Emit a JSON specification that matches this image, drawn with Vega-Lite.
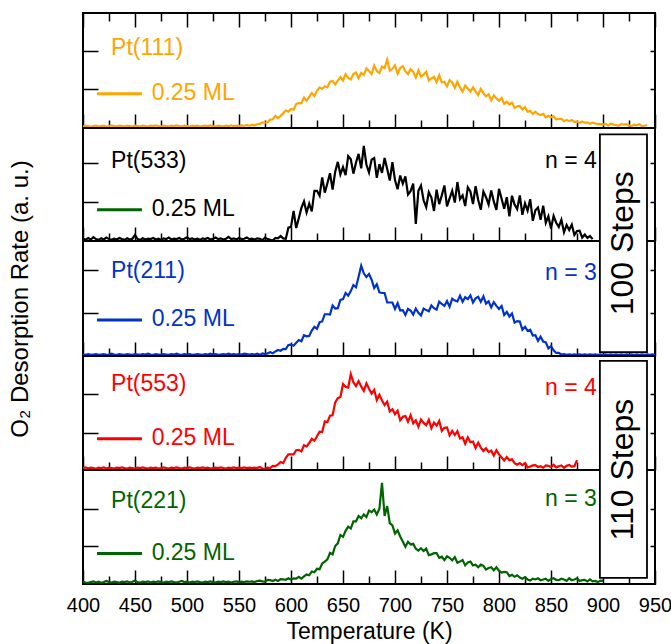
{
"$schema": "https://vega.github.io/schema/vega-lite/v6.json",
"padding": {"left": 7, "top": 11, "right": 0, "bottom": 0},
"config": {
  "font": "Liberation Sans",
  "view": {"stroke": "black", "strokeWidth": 2},
  "axis": {"grid": false, "domain": false, "labels": false, "tickColor": "black", "tickWidth": 1.5, "minExtent": 0, "labelColor": "black", "titleColor": "black", "titleFontWeight": "normal", "labelFlush": false, "labelOverlap": false},
  "text": {"font": "Liberation Sans", "fontSize": 23, "baseline": "middle"}
},
"datasets": {"tpd": [
{"T":400,"a":0.04,"b":0.06,"c":0.04,"d":0.05,"e":0.06},
{"T":402.5,"a":0.06,"b":0.03,"c":0.03,"d":0.07,"e":0.04},
{"T":405,"a":0.05,"b":0.08,"c":0.05,"d":0.04,"e":0.03},
{"T":407.5,"a":0.03,"b":0.04,"c":0.03,"d":0.06,"e":0.05},
{"T":410,"a":0.05,"b":0.10,"c":0.04,"d":0.05,"e":0.07},
{"T":412.5,"a":0.06,"b":0.05,"c":0.05,"d":0.03,"e":0.04},
{"T":415,"a":0.04,"b":0.03,"c":0.03,"d":0.06,"e":0.06},
{"T":417.5,"a":0.05,"b":0.07,"c":0.04,"d":0.05,"e":0.03},
{"T":420,"a":0.06,"b":0.04,"c":0.05,"d":0.07,"e":0.05},
{"T":422.5,"a":0.04,"b":0.09,"c":0.03,"d":0.04,"e":0.08},
{"T":425,"a":0.05,"b":0.05,"c":0.04,"d":0.06,"e":0.05},
{"T":427.5,"a":0.07,"b":0.03,"c":0.06,"d":0.05,"e":0.04},
{"T":430,"a":0.05,"b":0.06,"c":0.04,"d":0.04,"e":0.06},
{"T":432.5,"a":0.04,"b":0.04,"c":0.03,"d":0.06,"e":0.05},
{"T":435,"a":0.06,"b":0.08,"c":0.05,"d":0.05,"e":0.03},
{"T":437.5,"a":0.05,"b":0.05,"c":0.04,"d":0.07,"e":0.06},
{"T":440,"a":0.04,"b":0.03,"c":0.03,"d":0.05,"e":0.05},
{"T":442.5,"a":0.06,"b":0.07,"c":0.05,"d":0.04,"e":0.07},
{"T":445,"a":0.05,"b":0.04,"c":0.04,"d":0.06,"e":0.04},
{"T":447.5,"a":0.04,"b":0.06,"c":0.03,"d":0.05,"e":0.06},
{"T":450,"a":0.06,"b":0.16,"c":0.05,"d":0.04,"e":0.09},
{"T":452.5,"a":0.05,"b":0.05,"c":0.04,"d":0.06,"e":0.05},
{"T":455,"a":0.04,"b":0.03,"c":0.03,"d":0.05,"e":0.04},
{"T":457.5,"a":0.06,"b":0.07,"c":0.05,"d":0.07,"e":0.06},
{"T":460,"a":0.05,"b":0.04,"c":0.04,"d":0.05,"e":0.05},
{"T":462.5,"a":0.04,"b":0.06,"c":0.06,"d":0.04,"e":0.07},
{"T":465,"a":0.06,"b":0.05,"c":0.04,"d":0.06,"e":0.04},
{"T":467.5,"a":0.05,"b":0.08,"c":0.03,"d":0.05,"e":0.06},
{"T":470,"a":0.07,"b":0.04,"c":0.05,"d":0.06,"e":0.05},
{"T":472.5,"a":0.05,"b":0.06,"c":0.04,"d":0.04,"e":0.07},
{"T":475,"a":0.04,"b":0.03,"c":0.03,"d":0.05,"e":0.05},
{"T":477.5,"a":0.06,"b":0.07,"c":0.05,"d":0.07,"e":0.04},
{"T":480,"a":0.05,"b":0.05,"c":0.04,"d":0.05,"e":0.06},
{"T":482.5,"a":0.04,"b":0.09,"c":0.03,"d":0.04,"e":0.05},
{"T":485,"a":0.06,"b":0.04,"c":0.05,"d":0.06,"e":0.07},
{"T":487.5,"a":0.05,"b":0.06,"c":0.04,"d":0.05,"e":0.05},
{"T":490,"a":0.07,"b":0.05,"c":0.06,"d":0.07,"e":0.04},
{"T":492.5,"a":0.05,"b":0.08,"c":0.04,"d":0.05,"e":0.06},
{"T":495,"a":0.04,"b":0.04,"c":0.03,"d":0.04,"e":0.08},
{"T":497.5,"a":0.06,"b":0.06,"c":0.05,"d":0.06,"e":0.05},
{"T":500,"a":0.05,"b":0.10,"c":0.04,"d":0.05,"e":0.06},
{"T":502.5,"a":0.04,"b":0.05,"c":0.05,"d":0.07,"e":0.04},
{"T":505,"a":0.06,"b":0.07,"c":0.03,"d":0.05,"e":0.06},
{"T":507.5,"a":0.05,"b":0.04,"c":0.04,"d":0.04,"e":0.05},
{"T":510,"a":0.06,"b":0.06,"c":0.05,"d":0.06,"e":0.07},
{"T":512.5,"a":0.04,"b":0.03,"c":0.04,"d":0.05,"e":0.05},
{"T":515,"a":0.05,"b":0.07,"c":0.03,"d":0.07,"e":0.04},
{"T":517.5,"a":0.06,"b":0.05,"c":0.05,"d":0.05,"e":0.06},
{"T":520,"a":0.05,"b":0.08,"c":0.04,"d":0.06,"e":0.05},
{"T":522.5,"a":0.07,"b":0.04,"c":0.06,"d":0.04,"e":0.07},
{"T":525,"a":0.05,"b":0.06,"c":0.04,"d":0.05,"e":0.05},
{"T":527.5,"a":0.04,"b":0.09,"c":0.05,"d":0.06,"e":0.04},
{"T":530,"a":0.06,"b":0.05,"c":0.03,"d":0.05,"e":0.06},
{"T":532.5,"a":0.05,"b":0.07,"c":0.04,"d":0.07,"e":0.05},
{"T":535,"a":0.04,"b":0.04,"c":0.05,"d":0.05,"e":0.07},
{"T":537.5,"a":0.06,"b":0.06,"c":0.04,"d":0.04,"e":0.05},
{"T":540,"a":0.05,"b":0.11,"c":0.06,"d":0.06,"e":0.06},
{"T":542.5,"a":0.07,"b":0.05,"c":0.04,"d":0.05,"e":0.04},
{"T":545,"a":0.05,"b":0.07,"c":0.05,"d":0.07,"e":0.06},
{"T":547.5,"a":0.06,"b":0.04,"c":0.04,"d":0.05,"e":0.07},
{"T":550,"a":0.05,"b":0.08,"c":0.05,"d":0.06,"e":0.05},
{"T":552.5,"a":0.07,"b":0.05,"c":0.04,"d":0.05,"e":0.06},
{"T":555,"a":0.06,"b":0.06,"c":0.06,"d":0.07,"e":0.05},
{"T":557.5,"a":0.08,"b":0.09,"c":0.05,"d":0.05,"e":0.07},
{"T":560,"a":0.06,"b":0.05,"c":0.04,"d":0.06,"e":0.06},
{"T":562.5,"a":0.08,"b":0.06,"c":0.05,"d":0.05,"e":0.07},
{"T":565,"a":0.07,"b":0.04,"c":0.04,"d":0.06,"e":0.05},
{"T":567.5,"a":0.10,"b":0.07,"c":0.06,"d":0.05,"e":0.08},
{"T":570,"a":0.11,"b":0.06,"c":0.03,"d":0.08,"e":0.09},
{"T":572.5,"a":0.15,"b":0.02,"c":0.07,"d":0.04,"e":0.07},
{"T":575,"a":0.14,"b":0.09,"c":0.05,"d":0.03,"e":0.06},
{"T":577.5,"a":0.15,"b":0.05,"c":0.07,"d":0.06,"e":0.11},
{"T":580,"a":0.22,"b":0.03,"c":0.10,"d":0.05,"e":0.10},
{"T":582.5,"a":0.23,"b":0.01,"c":0.07,"d":0.11,"e":0.08},
{"T":585,"a":0.32,"b":0.08,"c":0.12,"d":0.10,"e":0.11},
{"T":587.5,"a":0.26,"b":0.07,"c":0.16,"d":0.15,"e":0.08},
{"T":590,"a":0.32,"b":0.13,"c":0.14,"d":0.21,"e":0.13},
{"T":592.5,"a":0.39,"b":0.07,"c":0.19,"d":0.18,"e":0.12},
{"T":595,"a":0.46,"b":0.06,"c":0.18,"d":0.32,"e":0.11},
{"T":597.5,"a":0.43,"b":0.35,"c":0.29,"d":0.41,"e":0.15},
{"T":600,"a":0.50,"b":0.37,"c":0.30,"d":0.41,"e":0.11},
{"T":602.5,"a":0.48,"b":0.79,"c":0.27,"d":0.41,"e":0.15},
{"T":605,"a":0.63,"b":0.34,"c":0.35,"d":0.52,"e":0.14},
{"T":607.5,"a":0.66,"b":0.60,"c":0.42,"d":0.53,"e":0.19},
{"T":610,"a":0.65,"b":0.87,"c":0.39,"d":0.49,"e":0.14},
{"T":612.5,"a":0.80,"b":1.04,"c":0.55,"d":0.65,"e":0.20},
{"T":615,"a":0.72,"b":0.75,"c":0.52,"d":0.62,"e":0.25},
{"T":617.5,"a":0.82,"b":0.98,"c":0.53,"d":0.71,"e":0.23},
{"T":620,"a":0.92,"b":0.78,"c":0.67,"d":0.82,"e":0.33},
{"T":622.5,"a":0.84,"b":1.32,"c":0.77,"d":0.77,"e":0.31},
{"T":625,"a":0.98,"b":1.32,"c":0.72,"d":0.89,"e":0.40},
{"T":627.5,"a":1.07,"b":1.19,"c":0.89,"d":1.01,"e":0.39},
{"T":630,"a":1.03,"b":1.67,"c":0.91,"d":1.00,"e":0.54},
{"T":632.5,"a":1.10,"b":1.27,"c":1.10,"d":1.28,"e":0.59},
{"T":635,"a":1.07,"b":1.52,"c":1.10,"d":1.26,"e":0.65},
{"T":637.5,"a":1.22,"b":1.78,"c":1.09,"d":1.43,"e":0.82},
{"T":640,"a":1.24,"b":1.35,"c":1.33,"d":1.44,"e":0.78},
{"T":642.5,"a":1.15,"b":1.82,"c":1.25,"d":1.78,"e":1.00},
{"T":645,"a":1.25,"b":2.08,"c":1.26,"d":1.89,"e":1.07},
{"T":647.5,"a":1.34,"b":1.75,"c":1.48,"d":1.92,"e":1.29},
{"T":650,"a":1.25,"b":1.94,"c":1.50,"d":2.26,"e":1.24},
{"T":652.5,"a":1.42,"b":1.73,"c":1.66,"d":2.19,"e":1.40},
{"T":655,"a":1.32,"b":2.23,"c":1.59,"d":2.17,"e":1.51},
{"T":657.5,"a":1.28,"b":2.15,"c":1.71,"d":2.52,"e":1.46},
{"T":660,"a":1.42,"b":1.77,"c":1.87,"d":2.31,"e":1.65},
{"T":662.5,"a":1.46,"b":2.06,"c":1.81,"d":2.21,"e":1.65},
{"T":665,"a":1.31,"b":2.29,"c":2.09,"d":2.34,"e":1.79},
{"T":667.5,"a":1.45,"b":1.91,"c":2.38,"d":2.20,"e":1.73},
{"T":670,"a":1.40,"b":2.50,"c":2.18,"d":2.08,"e":1.83},
{"T":672.5,"a":1.57,"b":2.01,"c":2.08,"d":2.28,"e":1.76},
{"T":675,"a":1.50,"b":1.80,"c":2.16,"d":2.14,"e":1.93},
{"T":677.5,"a":1.42,"b":2.14,"c":2.01,"d":2.01,"e":1.89},
{"T":680,"a":1.64,"b":2.18,"c":1.79,"d":2.11,"e":1.96},
{"T":682.5,"a":1.50,"b":1.66,"c":1.89,"d":1.84,"e":1.83},
{"T":685,"a":1.45,"b":2.02,"c":1.68,"d":1.98,"e":1.98},
{"T":687.5,"a":1.62,"b":1.79,"c":1.66,"d":1.83,"e":2.66},
{"T":690,"a":1.58,"b":2.18,"c":1.66,"d":1.71,"e":1.79},
{"T":692.5,"a":1.80,"b":1.89,"c":1.41,"d":1.80,"e":2.05},
{"T":695,"a":1.51,"b":1.59,"c":1.41,"d":1.54,"e":1.60},
{"T":697.5,"a":1.56,"b":2.07,"c":1.41,"d":1.60,"e":1.54},
{"T":700,"a":1.65,"b":1.60,"c":1.24,"d":1.47,"e":1.33},
{"T":702.5,"a":1.43,"b":1.36,"c":1.39,"d":1.56,"e":1.41},
{"T":705,"a":1.58,"b":1.72,"c":1.20,"d":1.31,"e":1.25},
{"T":707.5,"a":1.63,"b":1.51,"c":1.21,"d":1.40,"e":1.12},
{"T":710,"a":1.49,"b":1.70,"c":1.08,"d":1.42,"e":0.98},
{"T":712.5,"a":1.42,"b":1.22,"c":1.24,"d":1.27,"e":1.11},
{"T":715,"a":1.55,"b":1.31,"c":1.20,"d":1.44,"e":1.04},
{"T":717.5,"a":1.48,"b":1.51,"c":1.09,"d":1.23,"e":1.06},
{"T":720,"a":1.33,"b":0.45,"c":1.25,"d":1.31,"e":0.93},
{"T":722.5,"a":1.52,"b":1.32,"c":1.14,"d":1.14,"e":0.88},
{"T":725,"a":1.35,"b":1.46,"c":1.07,"d":1.33,"e":0.94},
{"T":727.5,"a":1.41,"b":1.07,"c":1.25,"d":1.24,"e":0.87},
{"T":730,"a":1.48,"b":0.89,"c":1.21,"d":1.18,"e":0.93},
{"T":732.5,"a":1.25,"b":1.28,"c":1.18,"d":1.32,"e":0.76},
{"T":735,"a":1.31,"b":1.14,"c":1.33,"d":1.10,"e":0.78},
{"T":737.5,"a":1.35,"b":0.79,"c":1.26,"d":1.25,"e":0.81},
{"T":740,"a":1.21,"b":1.35,"c":1.22,"d":1.17,"e":0.81},
{"T":742.5,"a":1.39,"b":0.97,"c":1.43,"d":1.29,"e":0.69},
{"T":745,"a":1.20,"b":1.20,"c":1.37,"d":1.03,"e":0.72},
{"T":747.5,"a":1.22,"b":1.46,"c":1.32,"d":1.11,"e":0.63},
{"T":750,"a":1.10,"b":0.91,"c":1.45,"d":1.12,"e":0.73},
{"T":752.5,"a":1.26,"b":1.12,"c":1.30,"d":0.91,"e":0.69},
{"T":755,"a":1.20,"b":1.32,"c":1.51,"d":1.03,"e":0.62},
{"T":757.5,"a":1.06,"b":1.01,"c":1.46,"d":0.92,"e":0.71},
{"T":760,"a":1.22,"b":1.55,"c":1.44,"d":1.02,"e":0.56},
{"T":762.5,"a":1.07,"b":1.10,"c":1.59,"d":0.83,"e":0.59},
{"T":765,"a":0.96,"b":1.20,"c":1.43,"d":0.86,"e":0.63},
{"T":767.5,"a":1.12,"b":0.92,"c":1.55,"d":0.69,"e":0.49},
{"T":770,"a":1.04,"b":1.41,"c":1.50,"d":0.86,"e":0.57},
{"T":772.5,"a":0.96,"b":1.30,"c":1.60,"d":0.73,"e":0.59},
{"T":775,"a":1.07,"b":0.97,"c":1.41,"d":0.75,"e":0.49},
{"T":777.5,"a":0.96,"b":1.44,"c":1.52,"d":0.58,"e":0.51},
{"T":780,"a":0.87,"b":1.08,"c":1.56,"d":0.72,"e":0.44},
{"T":782.5,"a":1.03,"b":0.82,"c":1.43,"d":0.59,"e":0.51},
{"T":785,"a":0.92,"b":1.30,"c":1.57,"d":0.50,"e":0.48},
{"T":787.5,"a":0.83,"b":1.15,"c":1.38,"d":0.57,"e":0.38},
{"T":790,"a":0.89,"b":0.96,"c":1.44,"d":0.47,"e":0.42},
{"T":792.5,"a":0.73,"b":1.33,"c":1.28,"d":0.51,"e":0.44},
{"T":795,"a":0.86,"b":1.04,"c":1.42,"d":0.38,"e":0.36},
{"T":797.5,"a":0.78,"b":0.82,"c":1.32,"d":0.52,"e":0.44},
{"T":800,"a":0.72,"b":1.37,"c":1.24,"d":0.41,"e":0.35},
{"T":802.5,"a":0.79,"b":1.11,"c":1.32,"d":0.33,"e":0.30},
{"T":805,"a":0.64,"b":0.85,"c":1.08,"d":0.25,"e":0.32},
{"T":807.5,"a":0.69,"b":1.15,"c":1.16,"d":0.34,"e":0.31},
{"T":810,"a":0.62,"b":0.65,"c":1.04,"d":0.26,"e":0.21},
{"T":812.5,"a":0.67,"b":1.19,"c":1.12,"d":0.28,"e":0.24},
{"T":815,"a":0.53,"b":0.96,"c":0.88,"d":0.18,"e":0.19},
{"T":817.5,"a":0.57,"b":0.84,"c":0.92,"d":0.14,"e":0.23},
{"T":820,"a":0.58,"b":1.20,"c":0.91,"d":0.18,"e":0.17},
{"T":822.5,"a":0.49,"b":0.69,"c":0.69,"d":0.13,"e":0.14},
{"T":825,"a":0.55,"b":0.99,"c":0.77,"d":0.18,"e":0.18},
{"T":827.5,"a":0.43,"b":0.80,"c":0.66,"d":0.07,"e":0.12},
{"T":830,"a":0.45,"b":1.10,"c":0.69,"d":0.09,"e":0.09},
{"T":832.5,"a":0.37,"b":0.53,"c":0.54,"d":0.12,"e":0.14},
{"T":835,"a":0.43,"b":0.81,"c":0.55,"d":0.13,"e":0.12},
{"T":837.5,"a":0.37,"b":0.88,"c":0.40,"d":0.08,"e":0.15},
{"T":840,"a":0.34,"b":0.56,"c":0.51,"d":0.10,"e":0.10},
{"T":842.5,"a":0.37,"b":0.93,"c":0.38,"d":0.06,"e":0.12},
{"T":845,"a":0.28,"b":0.48,"c":0.36,"d":0.12,"e":0.14},
{"T":847.5,"a":0.32,"b":0.65,"c":0.20,"d":0.11,"e":0.08},
{"T":850,"a":0.28,"b":0.33,"c":0.26,"d":0.08,"e":0.13},
{"T":852.5,"a":0.31,"b":0.66,"c":0.15,"d":0.14,"e":0.15},
{"T":855,"a":0.23,"b":0.48,"c":0.08,"d":0.07,"e":0.11},
{"T":857.5,"a":0.24,"b":0.37,"c":0.08,"d":0.10,"e":0.10},
{"T":860,"a":0.24,"b":0.56,"c":0.04,"d":0.12,"e":0.14},
{"T":862.5,"a":0.18,"b":0.23,"c":0.05,"d":0.06,"e":0.12},
{"T":865,"a":0.21,"b":0.42,"c":0.03,"d":0.11,"e":0.08},
{"T":867.5,"a":0.18,"b":0.29,"c":0.04,"d":0.13,"e":0.15},
{"T":870,"a":0.21,"b":0.43,"c":0.03,"d":0.09,"e":0.10},
{"T":872.5,"a":0.16,"b":0.16,"c":0.04,"d":0.10,"e":0.12},
{"T":875,"a":0.17,"b":0.26,"c":0.03,"d":0.26,"e":0.15},
{"T":877.5,"a":0.13,"b":0.27,"c":0.04,"e":0.08},
{"T":880,"a":0.17,"b":0.09,"c":0.03,"e":0.10},
{"T":882.5,"a":0.14,"b":0.17,"c":0.04,"e":0.11},
{"T":885,"a":0.15,"b":0.08,"c":0.03,"e":0.07},
{"T":887.5,"a":0.11,"b":0.13,"c":0.04,"e":0.12},
{"T":890,"a":0.14,"b":0.05,"c":0.03,"e":0.07},
{"T":892.5,"a":0.12,"c":0.04,"e":0.08},
{"T":895,"a":0.10,"c":0.03,"e":0.05},
{"T":897.5,"a":0.11,"c":0.04,"e":0.09},
{"T":900,"a":0.09,"c":0.03,"e":0.08},
{"T":902.5,"a":0.11,"c":0.04},
{"T":905,"a":0.07,"c":0.03},
{"T":907.5,"a":0.12,"c":0.04},
{"T":910,"a":0.09,"c":0.03},
{"T":912.5,"a":0.08,"c":0.04},
{"T":915,"a":0.06,"c":0.03},
{"T":917.5,"a":0.10,"c":0.04},
{"T":920,"a":0.09,"c":0.03},
{"T":922.5,"a":0.10,"c":0.04},
{"T":925,"a":0.07,"c":0.03},
{"T":927.5,"a":0.05,"c":0.04},
{"T":930,"a":0.09,"c":0.03},
{"T":932.5,"a":0.07,"c":0.04},
{"T":935,"a":0.10,"c":0.03},
{"T":937.5,"a":0.05,"c":0.04},
{"T":940,"a":0.06,"c":0.03},
{"T":942.5,"a":0.08,"c":0.04},
{"T":945,"c":0.03},
{"T":947.5,"c":0.04},
{"T":950,"c":0.03}
]},
"vconcat": [
{
  "width": 572, "height": 115,
  "layer": [
    {"data": {"name": "tpd"}, "mark": {"type": "line", "color": "#FFA500", "strokeWidth": 2.2},
     "encoding": {
       "x": {"field": "T", "type": "quantitative", "scale": {"domain": [400, 950], "nice": false, "zero": false}, "axis": {"orient": "bottom", "values": [400,450,500,550,600,650,700,750,800,850,900,950], "tickSize": -14, "title": null}},
       "y": {"field": "a", "type": "quantitative", "scale": {"domain": [0, 3.03], "nice": false, "zero": false}, "axis": {"orient": "left", "values": [1.03, 2.03], "tickSize": -15, "title": null}}}},
    {"data": {"values": [{}]}, "mark": {"type": "text", "text": "Pt(111)", "align": "left", "color": "#FFA500"},
     "encoding": {
       "x": {"datum": 427, "type": "quantitative", "scale": {"domain": [400, 950], "nice": false, "zero": false}, "axis": {"orient": "bottom", "values": [425,475,525,575,625,675,725,775,825,875,925], "tickSize": -8, "title": null}},
       "y": {"datum": 2.1, "type": "quantitative", "scale": {"domain": [0, 3.03], "nice": false, "zero": false}, "axis": {"orient": "right", "values": [1.03, 2.03], "tickSize": -5, "title": null}}}},
    {"data": {"values": [{}]}, "mark": {"type": "text", "text": "0.25 ML", "align": "left", "color": "#FFA500"},
     "encoding": {
       "x": {"datum": 466, "type": "quantitative", "scale": {"domain": [400, 950], "nice": false, "zero": false}, "axis": {"orient": "top", "values": [400,450,500,550,600,650,700,750,800,850,900,950], "tickSize": -14, "title": null}},
       "y": {"datum": 0.92, "type": "quantitative", "scale": {"domain": [0, 3.03], "nice": false, "zero": false}, "axis": null}}},
    {"data": {"values": [{}]}, "mark": {"type": "rule", "color": "#FFA500", "strokeWidth": 3},
     "encoding": {
       "x": {"datum": 413.5, "type": "quantitative", "scale": {"domain": [400, 950], "nice": false, "zero": false}, "axis": {"orient": "top", "values": [425,475,525,575,625,675,725,775,825,875,925], "tickSize": -8, "title": null}},
       "x2": {"datum": 456.7},
       "y": {"datum": 0.9, "type": "quantitative", "scale": {"domain": [0, 3.03], "nice": false, "zero": false}, "axis": null}}}
  ],
  "resolve": {"axis": {"x": "independent", "y": "independent"}}
},
{
  "width": 572, "height": 113,
  "layer": [
    {"data": {"name": "tpd"}, "mark": {"type": "line", "color": "#000000", "strokeWidth": 2.2},
     "encoding": {
       "x": {"field": "T", "type": "quantitative", "scale": {"domain": [400, 950], "nice": false, "zero": false}, "axis": {"orient": "bottom", "values": [400,450,500,550,600,650,700,750,800,850,900,950], "tickSize": -14, "title": null}},
       "y": {"field": "b", "type": "quantitative", "scale": {"domain": [0, 2.97], "nice": false, "zero": false}, "axis": {"orient": "left", "values": [1.03, 2.05], "tickSize": -15, "title": null}}}},
    {"data": {"values": [{}]}, "mark": {"type": "text", "text": "Pt(533)", "align": "left", "color": "#000000"},
     "encoding": {
       "x": {"datum": 427, "type": "quantitative", "scale": {"domain": [400, 950], "nice": false, "zero": false}, "axis": {"orient": "bottom", "values": [425,475,525,575,625,675,725,775,825,875,925], "tickSize": -8, "title": null}},
       "y": {"datum": 2.1, "type": "quantitative", "scale": {"domain": [0, 2.97], "nice": false, "zero": false}, "axis": {"orient": "right", "values": [1.03, 2.05], "tickSize": -5, "title": null}}}},
    {"data": {"values": [{}]}, "mark": {"type": "text", "text": "0.25 ML", "align": "left", "color": "#000000"},
     "encoding": {
       "x": {"datum": 466, "type": "quantitative", "scale": {"domain": [400, 950], "nice": false, "zero": false}, "axis": null},
       "y": {"datum": 0.84, "type": "quantitative", "scale": {"domain": [0, 2.97], "nice": false, "zero": false}, "axis": null}}},
    {"data": {"values": [{}]}, "mark": {"type": "rule", "color": "#006400", "strokeWidth": 3},
     "encoding": {
       "x": {"datum": 413.5, "type": "quantitative", "scale": {"domain": [400, 950], "nice": false, "zero": false}, "axis": null},
       "x2": {"datum": 456.7},
       "y": {"datum": 0.82, "type": "quantitative", "scale": {"domain": [0, 2.97], "nice": false, "zero": false}, "axis": null}}},
    {"data": {"values": [{}]}, "mark": {"type": "text", "text": "n = 4", "align": "right", "color": "#000000"},
     "encoding": {
       "x": {"datum": 894, "type": "quantitative", "scale": {"domain": [400, 950], "nice": false, "zero": false}, "axis": null},
       "y": {"datum": 2.1, "type": "quantitative", "scale": {"domain": [0, 2.97], "nice": false, "zero": false}, "axis": null}}}
  ],
  "resolve": {"axis": {"x": "independent", "y": "independent"}}
},
{
  "width": 572, "height": 115,
  "layer": [
    {"data": {"name": "tpd"}, "mark": {"type": "line", "color": "#0033CC", "strokeWidth": 2.2},
     "encoding": {
       "x": {"field": "T", "type": "quantitative", "scale": {"domain": [400, 950], "nice": false, "zero": false}, "axis": {"orient": "bottom", "values": [400,450,500,550,600,650,700,750,800,850,900,950], "tickSize": -14, "title": null}},
       "y": {"field": "c", "type": "quantitative", "scale": {"domain": [0, 3.03], "nice": false, "zero": false}, "axis": {"orient": "left", "values": [1.13, 2.26], "tickSize": -15, "title": "O₂ Desorption Rate (a. u.)", "titleFontSize": 24, "titlePadding": 50}}}},
    {"data": {"values": [{}]}, "mark": {"type": "text", "text": "Pt(211)", "align": "left", "color": "#0033CC"},
     "encoding": {
       "x": {"datum": 427, "type": "quantitative", "scale": {"domain": [400, 950], "nice": false, "zero": false}, "axis": {"orient": "bottom", "values": [425,475,525,575,625,675,725,775,825,875,925], "tickSize": -8, "title": null}},
       "y": {"datum": 2.24, "type": "quantitative", "scale": {"domain": [0, 3.03], "nice": false, "zero": false}, "axis": {"orient": "right", "values": [1.13, 2.26], "tickSize": -5, "title": null}}}},
    {"data": {"values": [{}]}, "mark": {"type": "text", "text": "0.25 ML", "align": "left", "color": "#0033CC"},
     "encoding": {
       "x": {"datum": 466, "type": "quantitative", "scale": {"domain": [400, 950], "nice": false, "zero": false}, "axis": null},
       "y": {"datum": 0.97, "type": "quantitative", "scale": {"domain": [0, 3.03], "nice": false, "zero": false}, "axis": null}}},
    {"data": {"values": [{}]}, "mark": {"type": "rule", "color": "#0033CC", "strokeWidth": 3},
     "encoding": {
       "x": {"datum": 413.5, "type": "quantitative", "scale": {"domain": [400, 950], "nice": false, "zero": false}, "axis": null},
       "x2": {"datum": 456.7},
       "y": {"datum": 0.95, "type": "quantitative", "scale": {"domain": [0, 3.03], "nice": false, "zero": false}, "axis": null}}},
    {"data": {"values": [{}]}, "mark": {"type": "text", "text": "n = 3", "align": "right", "color": "#0033CC"},
     "encoding": {
       "x": {"datum": 894, "type": "quantitative", "scale": {"domain": [400, 950], "nice": false, "zero": false}, "axis": null},
       "y": {"datum": 2.18, "type": "quantitative", "scale": {"domain": [0, 3.03], "nice": false, "zero": false}, "axis": null}}},
    {"data": {"values": [{}]}, "mark": {"type": "rect", "fill": "white", "stroke": "black", "strokeWidth": 1.8, "clip": false},
     "encoding": {
       "x": {"datum": 897, "type": "quantitative", "scale": {"domain": [400, 950], "nice": false, "zero": false}, "axis": null},
       "x2": {"datum": 942.3},
       "y": {"datum": 0.1, "type": "quantitative", "scale": {"domain": [0, 3.03], "nice": false, "zero": false}, "axis": null},
       "y2": {"datum": 5.84}}},
    {"data": {"values": [{}]}, "mark": {"type": "text", "text": "100 Steps", "angle": 270, "align": "center", "fontSize": 32, "color": "black", "clip": false},
     "encoding": {
       "x": {"datum": 919.6, "type": "quantitative", "scale": {"domain": [400, 950], "nice": false, "zero": false}, "axis": null},
       "y": {"datum": 2.97, "type": "quantitative", "scale": {"domain": [0, 3.03], "nice": false, "zero": false}, "axis": null}}}
  ],
  "resolve": {"axis": {"x": "independent", "y": "independent"}}
},
{
  "width": 572, "height": 114,
  "layer": [
    {"data": {"name": "tpd"}, "mark": {"type": "line", "color": "#FF0000", "strokeWidth": 2.2},
     "encoding": {
       "x": {"field": "T", "type": "quantitative", "scale": {"domain": [400, 950], "nice": false, "zero": false}, "axis": {"orient": "bottom", "values": [400,450,500,550,600,650,700,750,800,850,900,950], "tickSize": -14, "title": null}},
       "y": {"field": "d", "type": "quantitative", "scale": {"domain": [0, 3], "nice": false, "zero": false}, "axis": {"orient": "left", "values": [0.97, 2.0], "tickSize": -15, "title": null}}}},
    {"data": {"values": [{}]}, "mark": {"type": "text", "text": "Pt(553)", "align": "left", "color": "#FF0000"},
     "encoding": {
       "x": {"datum": 427, "type": "quantitative", "scale": {"domain": [400, 950], "nice": false, "zero": false}, "axis": {"orient": "bottom", "values": [425,475,525,575,625,675,725,775,825,875,925], "tickSize": -8, "title": null}},
       "y": {"datum": 2.26, "type": "quantitative", "scale": {"domain": [0, 3], "nice": false, "zero": false}, "axis": {"orient": "right", "values": [0.97, 2.0], "tickSize": -5, "title": null}}}},
    {"data": {"values": [{}]}, "mark": {"type": "text", "text": "0.25 ML", "align": "left", "color": "#FF0000"},
     "encoding": {
       "x": {"datum": 466, "type": "quantitative", "scale": {"domain": [400, 950], "nice": false, "zero": false}, "axis": null},
       "y": {"datum": 0.84, "type": "quantitative", "scale": {"domain": [0, 3], "nice": false, "zero": false}, "axis": null}}},
    {"data": {"values": [{}]}, "mark": {"type": "rule", "color": "#FF0000", "strokeWidth": 3},
     "encoding": {
       "x": {"datum": 413.5, "type": "quantitative", "scale": {"domain": [400, 950], "nice": false, "zero": false}, "axis": null},
       "x2": {"datum": 456.7},
       "y": {"datum": 0.82, "type": "quantitative", "scale": {"domain": [0, 3], "nice": false, "zero": false}, "axis": null}}},
    {"data": {"values": [{}]}, "mark": {"type": "text", "text": "n = 4", "align": "right", "color": "#FF0000"},
     "encoding": {
       "x": {"datum": 894, "type": "quantitative", "scale": {"domain": [400, 950], "nice": false, "zero": false}, "axis": null},
       "y": {"datum": 2.16, "type": "quantitative", "scale": {"domain": [0, 3], "nice": false, "zero": false}, "axis": null}}}
  ],
  "resolve": {"axis": {"x": "independent", "y": "independent"}}
},
{
  "width": 572, "height": 114,
  "layer": [
    {"data": {"name": "tpd"}, "mark": {"type": "line", "color": "#006400", "strokeWidth": 2.2},
     "encoding": {
       "x": {"field": "T", "type": "quantitative", "scale": {"domain": [400, 950], "nice": false, "zero": false}, "axis": {"orient": "bottom", "values": [400,450,500,550,600,650,700,750,800,850,900,950], "tickSize": -14, "title": null}},
       "y": {"field": "e", "type": "quantitative", "scale": {"domain": [0, 3], "nice": false, "zero": false}, "axis": {"orient": "left", "values": [1.0, 1.97], "tickSize": -15, "title": null}}}},
    {"data": {"values": [{}]}, "mark": {"type": "text", "text": "Pt(221)", "align": "left", "color": "#006400"},
     "encoding": {
       "x": {"datum": 427, "type": "quantitative", "scale": {"domain": [400, 950], "nice": false, "zero": false}, "axis": {"orient": "bottom", "values": [425,475,525,575,625,675,725,775,825,875,925], "tickSize": -8, "title": null}},
       "y": {"datum": 2.18, "type": "quantitative", "scale": {"domain": [0, 3], "nice": false, "zero": false}, "axis": {"orient": "right", "values": [1.0, 1.97], "tickSize": -5, "title": null}}}},
    {"data": {"values": [{}]}, "mark": {"type": "text", "text": "0.25 ML", "align": "left", "color": "#006400"},
     "encoding": {
       "x": {"datum": 466, "type": "quantitative", "scale": {"domain": [400, 950], "nice": false, "zero": false}, "axis": {"orient": "bottom", "values": [400,450,500,550,600,650,700,750,800,850,900,950], "ticks": false, "labels": true, "labelFontSize": 20, "labelPadding": 11, "title": "Temperature (K)", "titleFontSize": 23, "titlePadding": 5}},
       "y": {"datum": 0.82, "type": "quantitative", "scale": {"domain": [0, 3], "nice": false, "zero": false}, "axis": null}}},
    {"data": {"values": [{}]}, "mark": {"type": "rule", "color": "#006400", "strokeWidth": 3},
     "encoding": {
       "x": {"datum": 413.5, "type": "quantitative", "scale": {"domain": [400, 950], "nice": false, "zero": false}, "axis": null},
       "x2": {"datum": 456.7},
       "y": {"datum": 0.80, "type": "quantitative", "scale": {"domain": [0, 3], "nice": false, "zero": false}, "axis": null}}},
    {"data": {"values": [{}]}, "mark": {"type": "text", "text": "n = 3", "align": "right", "color": "#006400"},
     "encoding": {
       "x": {"datum": 894, "type": "quantitative", "scale": {"domain": [400, 950], "nice": false, "zero": false}, "axis": null},
       "y": {"datum": 2.24, "type": "quantitative", "scale": {"domain": [0, 3], "nice": false, "zero": false}, "axis": null}}},
    {"data": {"values": [{}]}, "mark": {"type": "rect", "fill": "white", "stroke": "black", "strokeWidth": 1.8, "clip": false},
     "encoding": {
       "x": {"datum": 897, "type": "quantitative", "scale": {"domain": [400, 950], "nice": false, "zero": false}, "axis": null},
       "x2": {"datum": 942.3},
       "y": {"datum": 0.16, "type": "quantitative", "scale": {"domain": [0, 3], "nice": false, "zero": false}, "axis": null},
       "y2": {"datum": 5.87}}},
    {"data": {"values": [{}]}, "mark": {"type": "text", "text": "110 Steps", "angle": 270, "align": "center", "fontSize": 32, "color": "black", "clip": false},
     "encoding": {
       "x": {"datum": 919.6, "type": "quantitative", "scale": {"domain": [400, 950], "nice": false, "zero": false}, "axis": null},
       "y": {"datum": 3.01, "type": "quantitative", "scale": {"domain": [0, 3], "nice": false, "zero": false}, "axis": null}}}
  ],
  "resolve": {"axis": {"x": "independent", "y": "independent"}}
}
],
"spacing": 0,
"bounds": "flush"
}
